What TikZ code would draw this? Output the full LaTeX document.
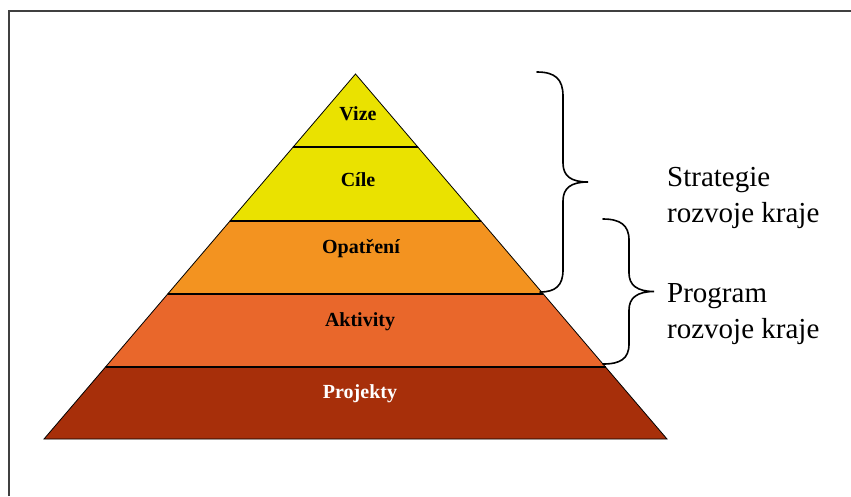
\documentclass[tikz,border=0pt]{standalone}
\usepackage{fontspec}
\setmainfont{Liberation Serif}
\definecolor{cYellow}{HTML}{EAE200}
\definecolor{cOrange}{HTML}{F39320}
\definecolor{cRedOr}{HTML}{E9672B}
\definecolor{cBrown}{HTML}{A72F0A}
\definecolor{cFrame}{HTML}{404040}
\tikzset{
  layer/.style={draw=black, line width=0.8pt, line join=miter},
  lbl/.style={font=\fontsize{20}{24}\selectfont\bfseries, inner sep=0pt},
  side/.style={font=\fontsize{29}{36}\selectfont, align=left, anchor=north west, inner sep=0pt},
  brace/.style={draw=black, line width=1.6pt, line cap=round}
}
\begin{document}
\begin{tikzpicture}[x=1pt, y=-1pt]
\useasboundingbox (0,0) rectangle (851,496);
% frame (only left and top edges visible)
\draw[cFrame, line width=2pt] (8.5,496) -- (8.5,11) -- (851,11);
% pyramid layers
\filldraw[layer, fill=cBrown] (105.5,367) -- (605.5,367) -- (667,439) -- (44,439) -- cycle;
\filldraw[layer, fill=cRedOr] (167.7,294) -- (543.3,294) -- (605.5,367) -- (105.5,367) -- cycle;
\filldraw[layer, fill=cOrange] (230,221) -- (481,221) -- (543.3,294) -- (167.7,294) -- cycle;
\filldraw[layer, fill=cYellow] (293.2,147) -- (417.8,147) -- (481,221) -- (230,221) -- cycle;
\filldraw[layer, fill=cYellow] (355.5,74) -- (417.8,147) -- (293.2,147) -- cycle;
\draw[black, line width=1.4pt] (293.2,147) -- (417.8,147);
\draw[black, line width=1.4pt] (230,221) -- (481,221);
\draw[black, line width=1.4pt] (167.7,294) -- (543.3,294);
\draw[black, line width=1.4pt] (105.5,367) -- (605.5,367);
% labels
\node[lbl] (vize) at (358,114) {Vize};
\node[lbl] (cile) at (358,180) {Cíle};
\node[lbl] (opatreni) at (361,249) {Opatření};
\node[lbl] (aktivity) at (360,322) {Aktivity};
\node[lbl, text=white] (projekty) at (360,394) {Projekty};
% braces
\draw[brace] (537,72) .. controls (555,72) and (563,79) .. (563,96) -- (563,163)
  .. controls (563,176) and (571,182) .. (588,182)
  .. controls (571,182) and (563,188) .. (563,201) -- (563,270)
  .. controls (563,286) and (555,292) .. (540,292);
\draw[brace] (603,219) .. controls (620,219) and (629,225) .. (629,240) -- (629,273)
  .. controls (629,285) and (637,291.5) .. (654,291.5)
  .. controls (637,291.5) and (629,298) .. (629,310) -- (629,344)
  .. controls (629,359) and (620,364) .. (603,364);
% side texts
\node[side] (strategie) at (667,167) {Strategie\\rozvoje kraje};
\node[side] (program) at (667,283) {Program\\rozvoje kraje};
\end{tikzpicture}
\end{document}
